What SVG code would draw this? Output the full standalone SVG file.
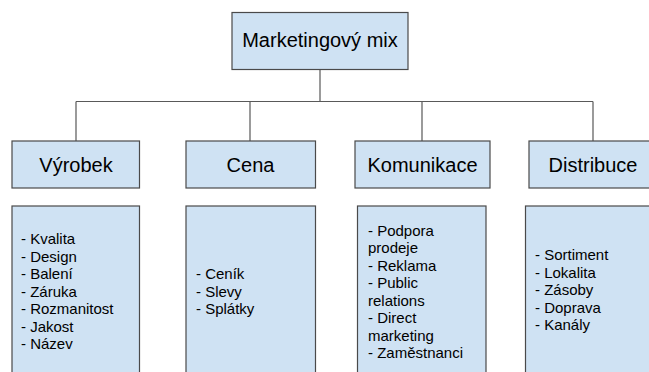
<svg xmlns="http://www.w3.org/2000/svg" width="649" height="372" viewBox="0 0 649 372">
<style>
.box{fill:#cfe2f3;stroke:#4a4a4a;stroke-width:1.2}
.conn{fill:none;stroke:#595959;stroke-width:1.2}
.t{font-family:"Liberation Sans",Arial,sans-serif;fill:#000}
.h{font-size:20px;text-anchor:middle}
.l{font-size:15px}
</style>
<rect width="649" height="372" fill="#ffffff"/>
<g id="connectors">
<path class="conn" d="M320,69.5V101.5M76,101.5H593M76,101.5V141M250,101.5V141M422,101.5V141M593,101.5V141"/>
</g>
<g id="root">
<rect class="box" x="232" y="12.5" width="176" height="57"/>
<text class="t h" x="320" y="47">Marketingový mix</text>
</g>
<g id="vyrobek">
<rect class="box" x="12" y="141" width="127.5" height="47"/>
<text class="t h" x="76" y="172">Výrobek</text>
</g>
<g id="cena">
<rect class="box" x="186" y="141" width="129.5" height="47"/>
<text class="t h" x="250.5" y="172">Cena</text>
</g>
<g id="komunikace">
<rect class="box" x="355" y="141" width="135" height="47"/>
<text class="t h" x="422.5" y="172">Komunikace</text>
</g>
<g id="distribuce">
<rect class="box" x="529" y="141" width="128" height="47"/>
<text class="t h" x="593" y="172">Distribuce</text>
</g>
<g id="vyrobek-list">
<rect class="box" x="12" y="206" width="127.5" height="180"/>
<text class="t l" x="21"><tspan x="21" y="244">- Kvalita</tspan><tspan x="21" y="261.5">- Design</tspan><tspan x="21" y="279">- Balení</tspan><tspan x="21" y="296.5">- Záruka</tspan><tspan x="21" y="314">- Rozmanitost</tspan><tspan x="21" y="331.5">- Jakost</tspan><tspan x="21" y="349">- Název</tspan></text>
</g>
<g id="cena-list">
<rect class="box" x="186" y="206" width="129.5" height="180"/>
<text class="t l"><tspan x="196" y="279">- Ceník</tspan><tspan x="196" y="296.5">- Slevy</tspan><tspan x="196" y="314">- Splátky</tspan></text>
</g>
<g id="komunikace-list">
<rect class="box" x="357.5" y="206" width="128.5" height="180"/>
<text class="t l"><tspan x="368" y="235.5">- Podpora</tspan><tspan x="368" y="253">prodeje</tspan><tspan x="368" y="270.5">- Reklama</tspan><tspan x="368" y="288">- Public</tspan><tspan x="368" y="305.5">relations</tspan><tspan x="368" y="323">- Direct</tspan><tspan x="368" y="340.5">marketing</tspan><tspan x="368" y="358">- Zaměstnanci</tspan></text>
</g>
<g id="distribuce-list">
<rect class="box" x="525.5" y="206" width="130" height="180"/>
<text class="t l"><tspan x="535" y="260">- Sortiment</tspan><tspan x="535" y="277.5">- Lokalita</tspan><tspan x="535" y="295">- Zásoby</tspan><tspan x="535" y="312.5">- Doprava</tspan><tspan x="535" y="330">- Kanály</tspan></text>
</g>
</svg>
